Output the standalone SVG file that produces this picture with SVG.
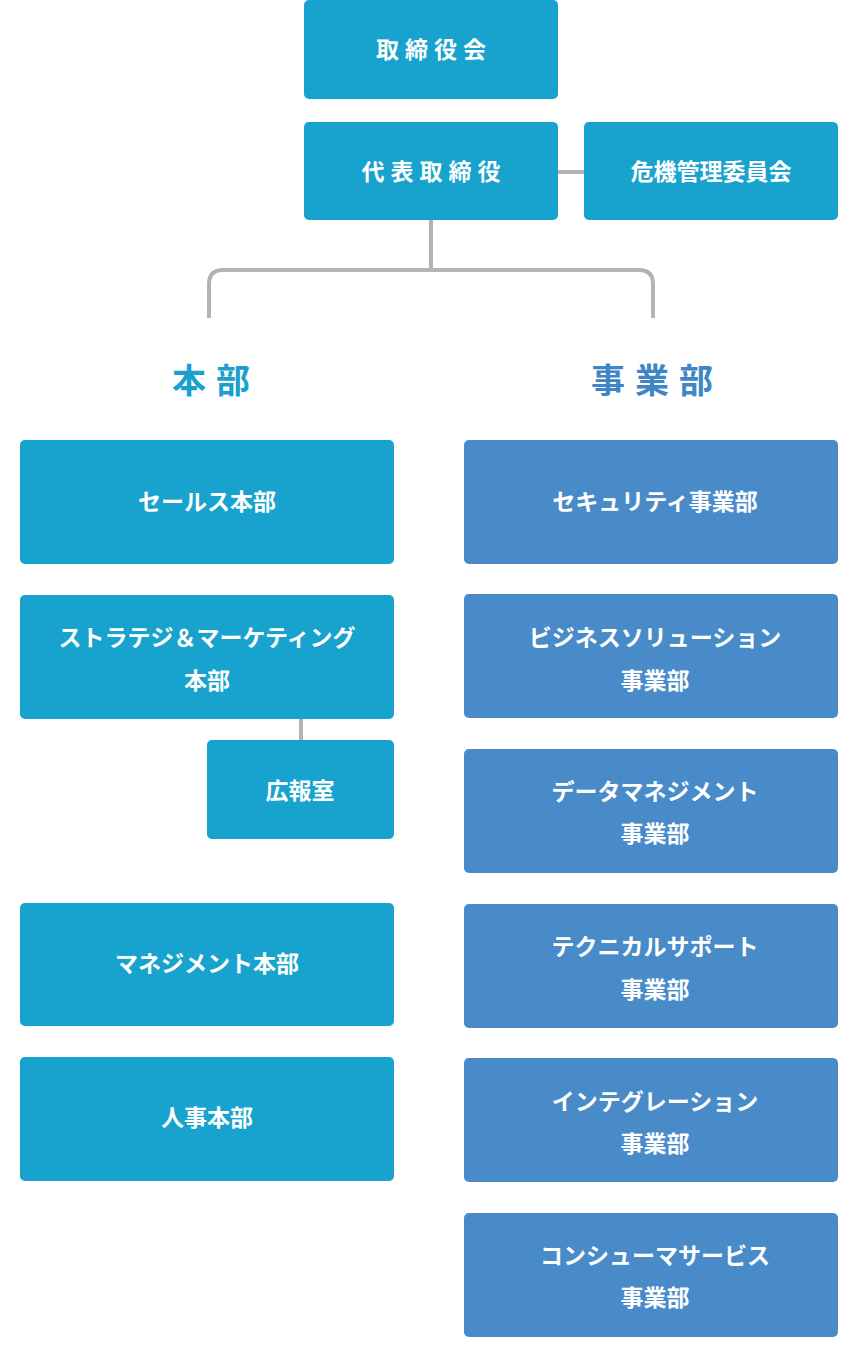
<svg xmlns="http://www.w3.org/2000/svg" width="863" height="1359" viewBox="0 0 863 1359">
<style>
.a{fill:#17a3cd}.b{fill:#488bc8}
text{font-family:"Noto Sans CJK JP",sans-serif;font-weight:bold;fill:#fff;font-size:23px;text-anchor:middle}
.sp{letter-spacing:6px}
.h{font-size:34px;letter-spacing:10px}
.c{fill:none;stroke:#b3b3b3;stroke-width:4}
</style>
<rect width="863" height="1359" fill="#fff"/>
<g id="connectors">
<path class="c" d="M558 172H584M431 220V270M209 318V284Q209 270 223 270H639Q653 270 653 284V318M301 719V740"/>
</g>
<g id="n1"><rect class="a" x="304" y="0" width="254" height="99" rx="5"/><text class="sp" x="434" y="58">取締役会</text></g>
<g id="n2"><rect class="a" x="304" y="122" width="254" height="98" rx="5"/><text class="sp" x="434" y="180">代表取締役</text></g>
<g id="n3"><rect class="a" x="584" y="122" width="254" height="98" rx="5"/><text x="711" y="180">危機管理委員会</text></g>
<g id="h1"><text class="h" x="216" y="393" style="fill:#1a9fce">本部</text></g>
<g id="h2"><text class="h" x="657" y="393" style="fill:#3e87c4">事業部</text></g>
<g id="l1"><rect class="a" x="20" y="440" width="374" height="124" rx="5"/><text x="207" y="510">セールス本部</text></g>
<g id="l2"><rect class="a" x="20" y="595" width="374" height="124" rx="5"/><text x="207" y="646">ストラテジ＆マーケティング</text><text x="207" y="689">本部</text></g>
<g id="l3"><rect class="a" x="207" y="740" width="187" height="99" rx="5"/><text x="300" y="799">広報室</text></g>
<g id="l4"><rect class="a" x="20" y="903" width="374" height="123" rx="5"/><text x="207" y="972">マネジメント本部</text></g>
<g id="l5"><rect class="a" x="20" y="1057" width="374" height="124" rx="5"/><text x="207" y="1126">人事本部</text></g>
<g id="r1"><rect class="b" x="464" y="440" width="374" height="124" rx="5"/><text x="655" y="510">セキュリティ事業部</text></g>
<g id="r2"><rect class="b" x="464" y="594" width="374" height="124" rx="5"/><text x="655" y="646">ビジネスソリューション</text><text x="655" y="689">事業部</text></g>
<g id="r3"><rect class="b" x="464" y="749" width="374" height="124" rx="5"/><text x="655" y="800">データマネジメント</text><text x="655" y="842">事業部</text></g>
<g id="r4"><rect class="b" x="464" y="904" width="374" height="124" rx="5"/><text x="655" y="955">テクニカルサポート</text><text x="655" y="998">事業部</text></g>
<g id="r5"><rect class="b" x="464" y="1058" width="374" height="124" rx="5"/><text x="655" y="1110">インテグレーション</text><text x="655" y="1152">事業部</text></g>
<g id="r6"><rect class="b" x="464" y="1213" width="374" height="124" rx="5"/><text x="655" y="1264">コンシューマサービス</text><text x="655" y="1306">事業部</text></g>
</svg>
